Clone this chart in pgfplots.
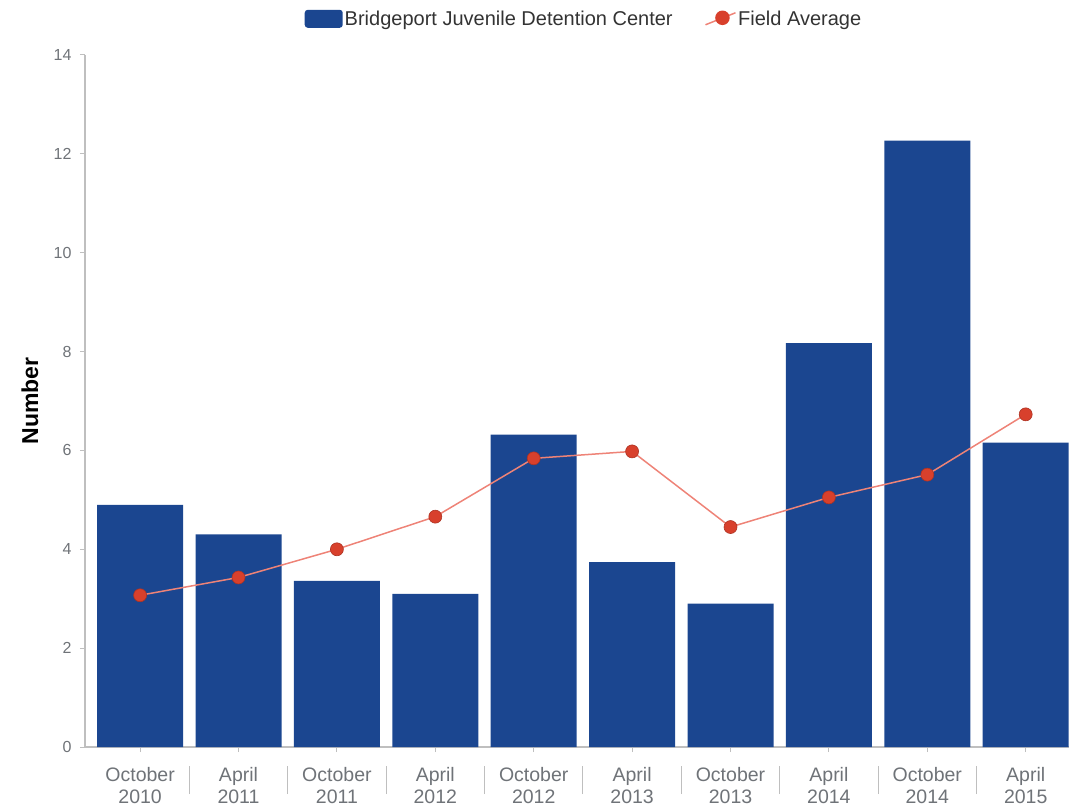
\documentclass[border=0pt]{standalone}
\usepackage{pgfplots}
\pgfplotsset{compat=1.18}
\usetikzlibrary{calc}
\usepackage{fontspec}
\setmainfont{Liberation Sans}
\definecolor{barblue}{HTML}{1B4690}
\definecolor{linered}{HTML}{EE8377}
\definecolor{dotred}{HTML}{D8402C}
\definecolor{tickgray}{HTML}{6F7378}
\definecolor{axgray}{HTML}{BFBFBF}

\begin{document}
\begin{tikzpicture}
\begin{axis}[
  name=ax,
  scale only axis,
  width=984pt, height=692pt,
  xmin=-0.56, xmax=9.44,
  ymin=0, ymax=14,
  ytick={0,2,...,14},
  xtick={0,...,9},
  xticklabels={{October\\2010},{April\\2011},{October\\2011},{April\\2012},{October\\2012},
               {April\\2013},{October\\2013},{April\\2014},{October\\2014},{April\\2015}},
  minor xtick={0.5,1.5,...,8.5},
  axis x line*=bottom, axis y line*=left,
  axis line style={axgray, line width=1.2pt, -},
  tick align=outside,
  major tick length=5pt,
  minor tick length=28pt,
  tick style={axgray, line width=1pt},
  minor x tick style={yshift=-19pt},
  xticklabel style={align=center, font=\fontsize{19.5}{22}\selectfont, text=tickgray, yshift=-12pt},
  yticklabel style={font=\fontsize{16}{19}\selectfont, text=tickgray, xshift=-5pt},
  /pgf/number format/assume math mode=true,
  ylabel={\textbf{Number}},
  ylabel style={font=\fontsize{23}{26}\selectfont, at={(axis description cs:-0.056,0.5)}, anchor=center},
  legend columns=2,
  legend style={draw=none, fill=none, at={(0.5,1)}, anchor=south, yshift=24pt, xshift=7pt,
    font=\fontsize{20}{23}\selectfont, text=black!80,
    /tikz/every even column/.append style={column sep=30pt}},
]
\addplot[ybar, bar width=0.874, fill=barblue, draw=none,
  legend image code/.code={\fill[barblue, rounded corners=3pt] (-2pt,-9pt) rectangle (36pt,9pt);}]
  coordinates {
  (0,4.9) (1,4.3) (2,3.36) (3,3.1) (4,6.32)
  (5,3.74) (6,2.9) (7,8.17) (8,12.27) (9,6.16)
};
\addlegendentry{Bridgeport Juvenile Detention Center}
\addplot[linered, line width=1.5pt, mark=*, mark size=6.5pt,
  mark options={fill=dotred, draw=dotred!80!black, line width=0.6pt},
  legend image code/.code={\draw[linered, line width=1.5pt] (0pt,-6pt) -- (30pt,6pt);
    \fill[dotred] (17pt,1pt) circle (6.5pt);}]
  coordinates {
  (0,3.07) (1,3.43) (2,4.0) (3,4.66) (4,5.84)
  (5,5.98) (6,4.45) (7,5.05) (8,5.51) (9,6.73)
};
\addlegendentry{Field Average}
\end{axis}
\pgfresetboundingbox
\path ($(ax.south west)+(-85pt,-61pt)$) rectangle ($(ax.north east)+(0pt,55pt)$);
\end{tikzpicture}
\end{document}
